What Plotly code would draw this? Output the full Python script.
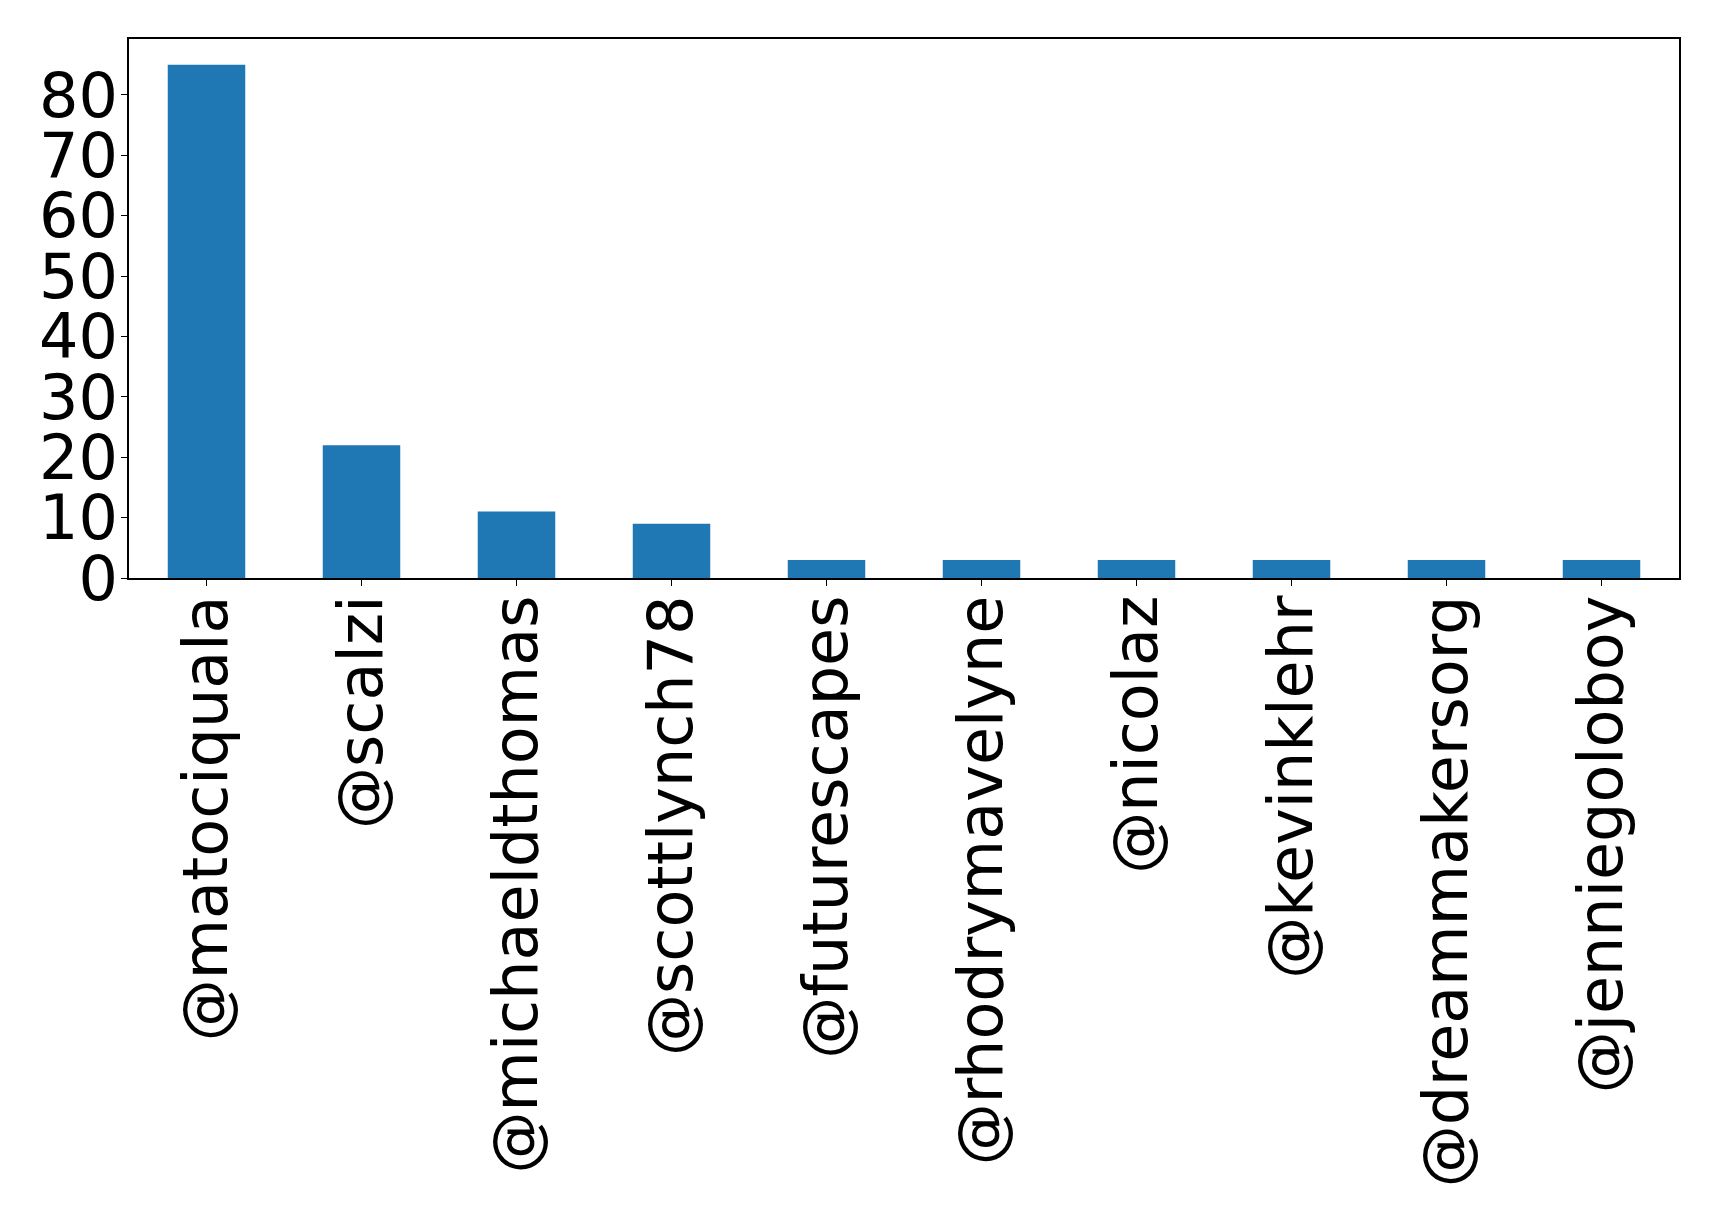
import plotly.graph_objects as go

# mention counts per account
accounts = ["@matociquala", "@scalzi", "@michaeldthomas", "@scottlynch78", "@futurescapes",
            "@rhodrymavelyne", "@nicolaz", "@kevinklehr", "@dreammakersorg", "@jenniegoloboy"]
counts = [85, 22, 11, 9, 3, 3, 3, 3, 3, 3]
y_ticks = [0, 10, 20, 30, 40, 50, 60, 70, 80]

fig = go.Figure()
fig.add_trace(go.Bar(x=accounts, y=counts, width=0.5, marker_color="#1f77b4", marker_line_width=0))

axis_common = dict(showline=True, linecolor="black", linewidth=1.5, mirror=True, showgrid=False,
                   zeroline=False, ticks="outside", ticklen=6, tickcolor="black",
                   tickfont=dict(family="DejaVu Sans", size=62, color="black"))

fig.update_xaxes(range=[-0.5, 9.5], tickangle=-90, ticklabelstandoff=-15, **axis_common)
fig.update_yaxes(range=[0, 89.25], tickvals=y_ticks, ticklabelstandoff=-9, **axis_common)

# page has an 8px body margin, so the figure is sized to fit inside it
fig.update_layout(
    width=1703, height=1208,
    margin=dict(l=121, r=32, t=31, b=638),
    plot_bgcolor="white", paper_bgcolor="white",
    showlegend=False,
)
fig.write_html("out.html")
